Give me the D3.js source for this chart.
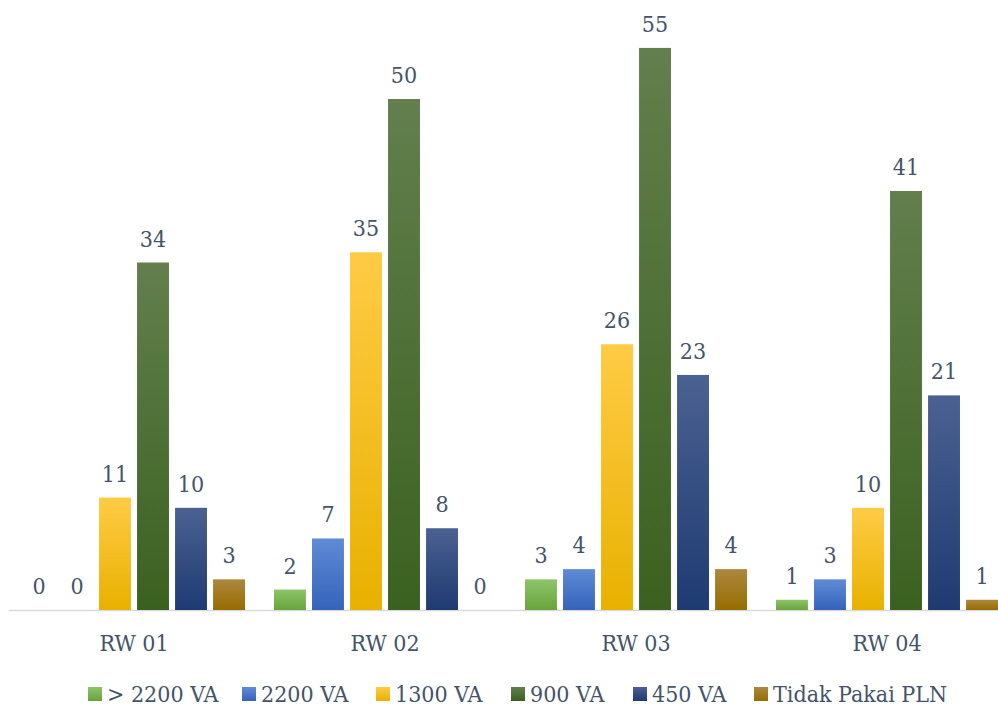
<!DOCTYPE html>
<head>
  <meta charset="utf-8">
  <script src="https://d3js.org/d3.v7.min.js"></script>
  <style>
    body { margin: 0; background: #fff; }
    svg { display: block; font-family: "DejaVu Serif Condensed", "DejaVu Serif", serif; font-stretch: condensed; }
    .lbl { fill: #44546A; font-size: 23px; }
  </style>
</head>
<body>
  <svg width="998" height="707"></svg>
  <script>
    var categories = ['RW 01', 'RW 02', 'RW 03', 'RW 04'];
    var series = ['> 2200 VA', '2200 VA', '1300 VA', '900 VA', '450 VA', 'Tidak Pakai PLN'];
    var valGt2200 = [0, 2, 3, 1];
    var val2200 = [0, 7, 4, 3];
    var val1300 = [11, 35, 26, 10];
    var val900 = [34, 50, 55, 41];
    var val450 = [10, 8, 23, 21];
    var valNone = [3, 0, 4, 1];
    var allValues = [valGt2200, val2200, val1300, val900, val450, valNone];

    // gradient top/bottom per series
    var colors = [
      ['#8DC46A', '#67A53B'],
      ['#5F8BD6', '#3563BA'],
      ['#FFCB45', '#E8B100'],
      ['#627F4D', '#3B6120'],
      ['#4B6191', '#1E3B72'],
      ['#AC8840', '#976C00']
    ];

    var svg = d3.select('svg');
    var baseY = 610;

    var x0 = d3.scaleBand().domain(categories).range([8.5, 1012.5]).paddingInner(0).paddingOuter(0);
    var x1 = d3.scaleBand().domain(series).range([14.5, 236.5]).paddingInner(0.16).paddingOuter(0);
    var y = d3.scaleLinear().domain([0, 60]).range([baseY, baseY - 613.2]);

    var defs = svg.append('defs');
    colors.forEach(function(c, i) {
      var g = defs.append('linearGradient').attr('id', 'grad' + i)
        .attr('x1', 0).attr('y1', 0).attr('x2', 0).attr('y2', 1);
      g.append('stop').attr('offset', '0%').attr('stop-color', c[0]);
      g.append('stop').attr('offset', '100%').attr('stop-color', c[1]);
    });

    // axis line
    svg.append('line')
      .attr('x1', 8.5).attr('x2', 998)
      .attr('y1', baseY + 0.5).attr('y2', baseY + 0.5)
      .attr('stroke', '#D9D9D9').attr('stroke-width', 1.5);

    var groups = svg.selectAll('g.grp')
      .data(categories).enter().append('g')
      .attr('class', 'grp')
      .attr('transform', function(d) { return 'translate(' + x0(d) + ',0)'; });

    groups.selectAll('rect')
      .data(function(d, ci) {
        return series.map(function(s, si) { return {s: s, si: si, v: allValues[si][ci]}; });
      }).enter().append('rect')
      .attr('x', function(d) { return x1(d.s); })
      .attr('width', x1.bandwidth())
      .attr('y', function(d) { return y(d.v); })
      .attr('height', function(d) { return baseY - y(d.v); })
      .attr('fill', function(d) { return 'url(#grad' + d.si + ')'; });

    groups.selectAll('text.val')
      .data(function(d, ci) {
        return series.map(function(s, si) { return {s: s, si: si, v: allValues[si][ci]}; });
      }).enter().append('text')
      .attr('class', 'lbl val')
      .attr('text-anchor', 'middle')
      .attr('x', function(d) { return x1(d.s) + x1.bandwidth() / 2; })
      .attr('y', function(d) { return y(d.v) - 16; })
      .text(function(d) { return d.v; });

    // category labels
    svg.selectAll('text.cat')
      .data(categories).enter().append('text')
      .attr('class', 'lbl cat')
      .attr('text-anchor', 'middle')
      .attr('x', function(d) { return x0(d) + x0.bandwidth() / 2; })
      .attr('y', 651)
      .text(function(d) { return d; });

    // legend
    var legX = [88, 242, 376, 511, 633, 754];
    var leg = svg.selectAll('g.leg')
      .data(series).enter().append('g')
      .attr('class', 'leg')
      .attr('transform', function(d, i) { return 'translate(' + legX[i] + ',687)'; });
    leg.append('rect')
      .attr('width', 14).attr('height', 14)
      .attr('fill', function(d, i) { return 'url(#grad' + i + ')'; });
    leg.append('text')
      .attr('class', 'lbl')
      .attr('x', 19).attr('y', 15)
      .text(function(d) { return d; });
  </script>
</body>
